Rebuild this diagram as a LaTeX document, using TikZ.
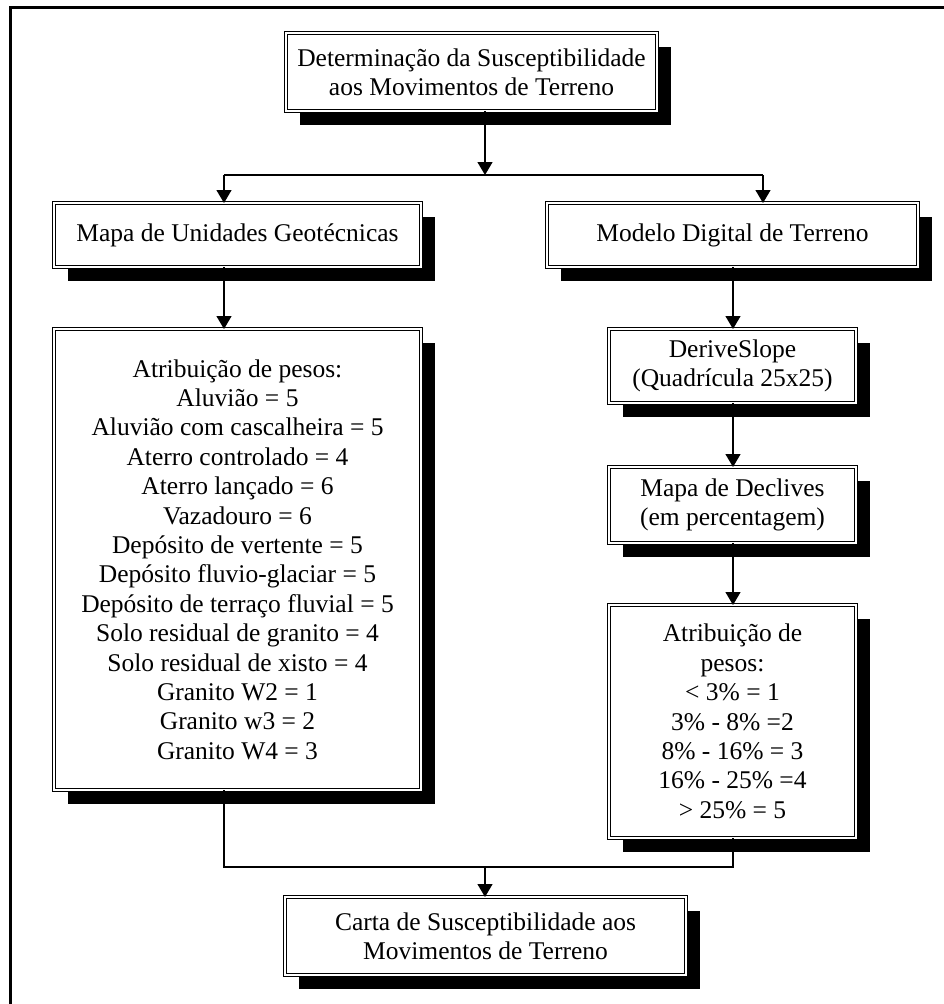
\documentclass[tikz,border=0pt]{standalone}
\usepackage{fontspec}
\setmainfont{Liberation Serif}
\usetikzlibrary{arrows.meta}
\tikzset{
  box/.style={draw=black, line width=1.1pt, double=white, double distance=1.6pt,
    fill=white, inner sep=0pt, outer sep=0pt, align=center,
    font=\fontsize{25.5}{29.4}\selectfont,
    preaction={draw=none, fill=black, transform canvas={shift={(14pt,-14pt)}}}},
  conn/.style={line width=1.3pt},
  arr/.style={conn, -{Triangle[width=15pt,length=13pt]}},
  frameline/.style={line width=3pt, line join=miter}
}
\begin{document}
\begin{tikzpicture}[x=1pt,y=-1pt]
\useasboundingbox (0,0) rectangle (944,1004);
\draw[frameline] (10.5,1004) -- (10.5,7.5) -- (944,7.5);

\node[box, minimum width=371pt, minimum height=78pt] (top) at (471.5,72)
  {Determinação da Susceptibilidade\\aos Movimentos de Terreno};
\node[box, minimum width=367pt, minimum height=64pt] (unid) at (237.5,235)
  {Mapa de Unidades Geotécnicas};
\node[box, minimum width=371pt, minimum height=64pt] (modelo) at (732.5,235)
  {Modelo Digital de Terreno};
\node[box, minimum width=367pt, minimum height=461pt] (pesosL) at (237.5,559.5)
  {Atribuição de pesos:\\
   Aluvião = 5\\
   Aluvião com cascalheira = 5\\
   Aterro controlado = 4\\
   Aterro lançado = 6\\
   Vazadouro = 6\\
   Depósito de vertente = 5\\
   Depósito fluvio-glaciar = 5\\
   Depósito de terraço fluvial = 5\\
   Solo residual de granito = 4\\
   Solo residual de xisto = 4\\
   Granito W2 = 1\\
   Granito w3 = 2\\
   Granito W4 = 3};
\node[box, minimum width=247pt, minimum height=74pt] (derive) at (732.5,366)
  {DeriveSlope\\(Quadrícula 25x25)};
\node[box, minimum width=247pt, minimum height=76pt] (declives) at (732.5,505)
  {Mapa de Declives\\(em percentagem)};
\node[box, minimum width=247pt, minimum height=233pt] (pesosR) at (732.5,721.5)
  {Atribuição de\\pesos:\\
   < 3\% = 1\\
   3\% - 8\% =2\\
   8\% - 16\% = 3\\
   16\% - 25\% =4\\
   > 25\% = 5};
\node[box, minimum width=401pt, minimum height=78pt] (carta) at (485.5,936)
  {Carta de Susceptibilidade aos\\Movimentos de Terreno};

\coordinate (jt) at (485,175);
\coordinate (jl) at (224,175);
\coordinate (jr) at (763,175);
\coordinate (bl) at (224,867);
\coordinate (br) at (733,867);
\coordinate (bm) at (485,867);

\draw[arr] (top.south -| jt) -- (jt);
\draw[conn] (jl) -- (jr);
\draw[arr] (jl) -- (unid.north -| jl);
\draw[arr] (jr) -- (modelo.north -| jr);
\draw[arr] (unid.south -| jl) -- (pesosL.north -| jl);
\draw[arr] (modelo.south -| br) -- (derive.north -| br);
\draw[arr] (derive.south -| br) -- (declives.north -| br);
\draw[arr] (declives.south -| br) -- (pesosR.north -| br);
\draw[conn] (pesosL.south -| bl) -- (bl) -- (br) -- (pesosR.south -| br);
\draw[arr] (bm) -- (carta.north -| bm);
\end{tikzpicture}
\end{document}
